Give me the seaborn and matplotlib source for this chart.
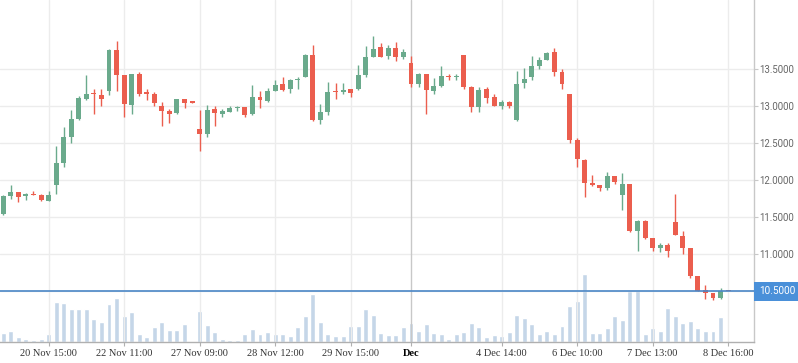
import numpy as np
import pandas as pd
import seaborn as sns
import matplotlib.pyplot as plt

# OHLC per candle (ordinal time axis)
opens = [11.55, 11.79, 11.84, 11.79, 11.81, 11.80, 11.725, 11.94, 12.24, 12.58,
         12.83, 13.10, 13.17, 13.15, 13.20, 13.76, 13.42, 13.02, 13.44, 13.19,
         13.17, 13.00, 12.94, 12.91, 13.10, 13.055, 12.69, 12.62, 12.96, 12.90,
         12.92, 12.97, 12.99, 12.90, 13.13, 13.07, 13.21, 13.30, 13.23, 13.35,
         13.40, 13.69, 12.82, 12.92, 13.195, 13.19, 13.23, 13.23, 13.42, 13.67,
         13.80, 13.68, 13.79, 13.67, 13.59, 13.30, 13.44, 13.21, 13.27, 13.40,
         13.395, 13.69, 13.26, 12.99, 13.23, 13.13, 13.00, 13.06, 12.81, 13.31,
         13.39, 13.54, 13.63, 13.73, 13.46, 13.17, 12.55, 12.27, 11.96, 11.93,
         11.90, 12.06, 11.80, 11.95, 11.32, 11.45, 11.22, 11.09, 11.13, 11.44,
         11.25, 11.09, 10.71, 10.52, 10.48, 10.41, 10.505]
highs = [11.80, 11.94, 11.84, 11.83, 11.855, 11.815, 11.855, 12.46, 12.72, 12.95,
         13.14, 13.42, 13.23, 13.23, 13.77, 13.88, 13.42, 13.44, 13.46, 13.23,
         13.19, 13.06, 12.96, 13.10, 13.10, 13.055, 12.95, 13.02, 13.00, 12.96,
         13.00, 13.00, 12.99, 13.29, 13.21, 13.25, 13.36, 13.40, 13.37, 13.40,
         13.71, 13.83, 13.03, 13.33, 13.32, 13.32, 13.23, 13.56, 13.82, 13.95,
         13.86, 13.83, 13.87, 13.77, 13.68, 13.45, 13.44, 13.38, 13.55, 13.44,
         13.44, 13.69, 13.27, 13.26, 13.26, 13.17, 13.09, 13.07, 13.48, 13.52,
         13.68, 13.67, 13.73, 13.79, 13.50, 13.17, 12.57, 12.29, 12.07, 11.94,
         12.11, 12.06, 12.10, 11.95, 11.46, 11.46, 11.22, 11.15, 11.15, 11.82,
         11.32, 11.09, 10.71, 10.59, 10.48, 10.55, 10.505]
lows = [11.53, 11.75, 11.71, 11.73, 11.80, 11.725, 11.72, 11.81, 12.18, 12.51,
        12.82, 13.08, 12.90, 13.01, 13.15, 13.21, 12.85, 12.90, 13.14, 13.09,
        13.00, 12.74, 12.77, 12.90, 12.97, 13.05, 12.40, 12.59, 12.74, 12.85,
        12.92, 12.94, 12.85, 12.88, 12.98, 13.06, 13.20, 13.21, 13.18, 13.23,
        13.39, 12.80, 12.76, 12.88, 13.10, 13.17, 13.13, 13.22, 13.40, 13.66,
        13.66, 13.64, 13.61, 13.64, 13.26, 13.26, 12.90, 13.17, 13.26, 13.36,
        13.36, 13.23, 12.92, 12.92, 13.05, 13.00, 12.96, 12.98, 12.80, 13.25,
        13.36, 13.50, 13.62, 13.41, 13.23, 12.51, 12.18, 11.77, 11.92, 11.86,
        11.87, 11.95, 11.60, 11.30, 11.05, 11.21, 11.05, 11.03, 10.96, 11.26,
        11.00, 10.68, 10.50, 10.40, 10.38, 10.40, 10.50]
closes = [11.79, 11.84, 11.77, 11.81, 11.80, 11.73, 11.80, 12.23, 12.58, 12.83,
          13.11, 13.17, 13.16, 13.10, 13.76, 13.42, 13.03, 13.44, 13.16, 13.17,
          13.04, 12.94, 12.90, 13.10, 13.05, 13.05, 12.63, 12.95, 12.91, 12.94,
          12.98, 12.98, 12.88, 13.13, 13.08, 13.21, 13.29, 13.22, 13.36, 13.36,
          13.69, 12.82, 12.92, 13.19, 13.19, 13.22, 13.18, 13.42, 13.67, 13.77,
          13.67, 13.79, 13.67, 13.73, 13.30, 13.44, 13.22, 13.27, 13.41, 13.395,
          13.40, 13.26, 12.99, 13.22, 13.11, 13.00, 13.06, 13.00, 13.30, 13.37,
          13.55, 13.63, 13.72, 13.46, 13.30, 12.55, 12.29, 11.97, 11.93, 11.89,
          12.06, 11.98, 11.95, 11.32, 11.45, 11.22, 11.09, 11.13, 11.05, 11.26,
          11.09, 10.71, 10.50, 10.48, 10.41, 10.50, 10.50]
volumes = [28, 34, 16, 10, 7, 10, 25, 121, 118, 100,
           100, 100, 70, 61, 115, 133, 79, 91, 25, 16,
           46, 61, 37, 37, 55, 0, 94, 52, 31, 10,
           7, 7, 25, 40, 25, 31, 25, 25, 19, 46,
           79, 145, 61, 25, 19, 19, 49, 49, 100, 82,
           28, 22, 22, 46, 58, 34, 55, 28, 25, 10,
           25, 31, 58, 46, 16, 22, 19, 31, 82, 73,
           55, 25, 34, 25, 49, 109, 124, 205, 28, 28,
           43, 79, 67, 155, 157, 25, 43, 34, 103, 79,
           58, 64, 43, 34, 34, 76, 4]

tick_idx = [6, 16, 26, 36, 46, 54, 66, 76, 86, 96]
tick_labels = ["20 Nov 15:00", "22 Nov 11:00", "27 Nov 09:00", "28 Nov 12:00",
               "29 Nov 15:00", "Dec", "4 Dec 14:00", "6 Dec 10:00",
               "7 Dec 13:00", "8 Dec 16:00"]
month_idx = 54
price_ticks = [10.5, 11.0, 11.5, 12.0, 12.5, 13.0, 13.5]

UP = "#6aaa8c"
DOWN = "#eb5e4e"

df = pd.DataFrame({"i": np.arange(len(opens)), "open": opens, "high": highs,
                   "low": lows, "close": closes, "volume": volumes})

sns.set_theme(style="white")
W, H = 798, 363
fig = plt.figure(figsize=(W / 100, H / 100), dpi=100)
ax = fig.add_axes([0, 20.7 / H, 754 / W, 342.3 / H])
axv = ax.twinx()

# volume underneath
sns.barplot(data=df, x="i", y="volume", native_scale=True, ax=axv,
            color="#c5d6e8", saturation=1, width=0.66, errorbar=None)
axv.set_ylim(0, 1027)
axv.set_yticks([])
axv.set_ylabel("")
for s in axv.spines.values():
    s.set_visible(False)
ax.set_zorder(2)
axv.set_zorder(1)
ax.patch.set_visible(False)

# candles
colors = np.where(df["close"] >= df["open"], UP, DOWN)
ax.vlines(df["i"], df["low"], df["high"], colors=colors, lw=1.0, zorder=3)
body_lo = np.minimum(df["open"], df["close"])
body_h = np.maximum(np.abs(df["close"] - df["open"]), 0.018)
ax.bar(df["i"], body_h, bottom=body_lo, width=0.66, color=colors, lw=0, zorder=4)

ax.set_xlim(-0.437, 99.43)
ax.set_ylim(9.811, 14.436)

# grid
for t in tick_idx:
    if t != month_idx:
        ax.axvline(t, color="#ececec", lw=1, zorder=0)
ax.axvline(month_idx, color="#c8c8c8", lw=1, zorder=1)
for p in price_ticks:
    ax.axhline(p, color="#ececec", lw=1, zorder=0)
ax.axhline(df["close"].iloc[-1], color="#4a86c6", lw=1.2, zorder=5)

ax.set_xticks(tick_idx)
ax.set_xticklabels(tick_labels, family="Liberation Serif", fontsize=7.5, color="#333333")
for lbl in ax.get_xticklabels():
    if lbl.get_text() == "Dec":
        lbl.set_color("black")
        lbl.set_fontweight("bold")
ax.yaxis.tick_right()
ax.set_yticks(price_ticks)
ax.set_yticklabels(["" if p == closes[-1] else f"{p:.4f}" for p in price_ticks],
                   family="Roboto", fontsize=6.9, color="#666666")
ax.tick_params(axis="x", length=3, width=0.8, color="#b0b0b0", pad=2, bottom=True)
ax.tick_params(axis="y", length=3, width=0.8, color="#c8c8c8", pad=1, right=True, left=False)
ax.set_xlabel("")
ax.set_ylabel("")
for side in ["top", "left"]:
    ax.spines[side].set_visible(False)
ax.spines["right"].set_color("#c8c8c8")
ax.spines["bottom"].set_color("#b0b0b0")
for s in ["right", "bottom"]:
    ax.spines[s].set_linewidth(1)

# current price tag
ax.annotate(f"{closes[-1]:.4f}", xy=(1, closes[-1]), xycoords=("axes fraction", "data"),
            xytext=(3.5, 0), textcoords="offset points", ha="left", va="center",
            family="Roboto", fontsize=7.2, color="white",
            bbox=dict(boxstyle="square,pad=0.45", fc="#4a90d9", ec="none"),
            annotation_clip=False, zorder=10)

fig.savefig("out.png", dpi=100)
